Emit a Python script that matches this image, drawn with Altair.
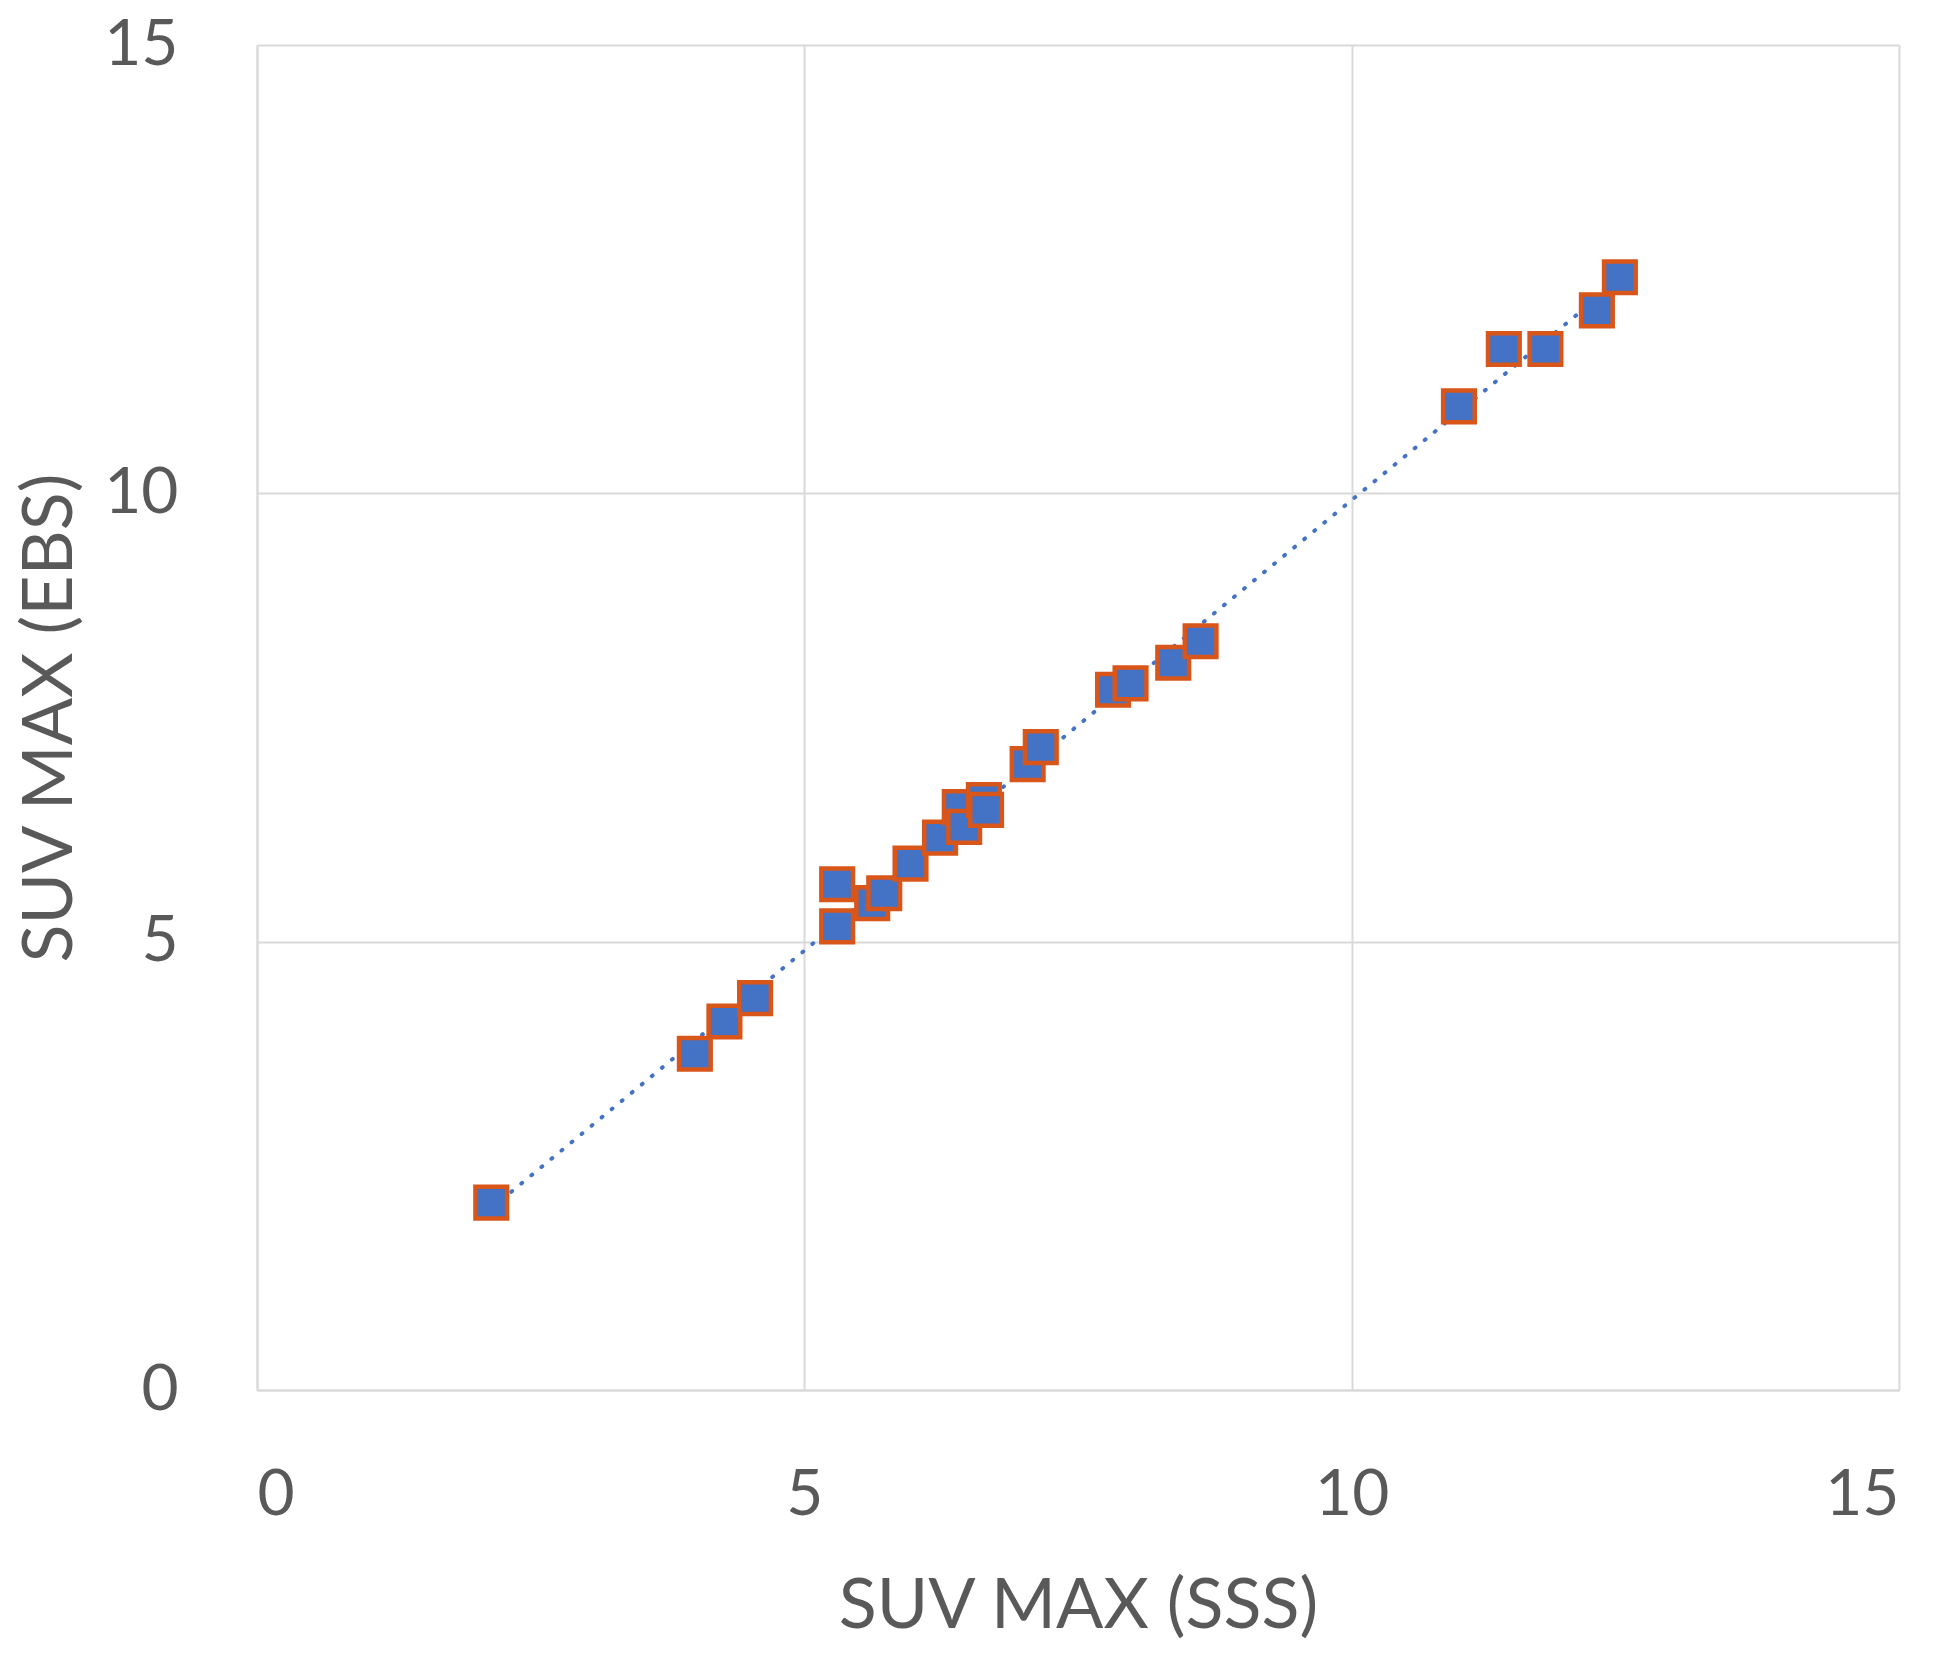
import altair as alt
import pandas as pd

sss = [2.14, 4.00, 4.27, 4.55, 5.30, 5.30, 5.62, 5.73, 5.97, 6.24, 6.42, 6.46, 6.64, 6.66,
       7.04, 7.16, 7.82, 7.98, 8.37, 8.62, 10.98, 11.39, 11.77, 12.24, 12.45]
ebs = [2.09, 3.75, 4.11, 4.37, 5.17, 5.64, 5.43, 5.54, 5.87, 6.16, 6.50, 6.28, 6.58, 6.47,
       6.98, 7.17, 7.81, 7.88, 8.11, 8.35, 10.97, 11.61, 11.61, 12.04, 12.41]
ticks = [0, 5, 10, 15]

df = pd.DataFrame({"SSS": sss, "EBS": ebs})

FONT = "Lato"
TXT = "#595959"
GRID = "#D9D9D9"

xenc = alt.X("SSS:Q", title="SUV MAX (SSS)",
             scale=alt.Scale(domain=[0, 15], nice=False, zero=False),
             axis=alt.Axis(values=ticks, ticks=False, tickSize=0, labelPadding=73,
                           titlePadding=45, labelFontSize=64, titleFontSize=70,
                           labelFont=FONT, titleFont=FONT, labelColor=TXT, titleColor=TXT,
                           titleFontWeight="normal", grid=True, gridColor=GRID, gridWidth=2,
                           domainColor=GRID, domainWidth=2))
yenc = alt.Y("EBS:Q", title="SUV MAX (EBS)",
             scale=alt.Scale(domain=[0, 15], nice=False, zero=False),
             axis=alt.Axis(values=ticks, ticks=False, tickSize=0, labelPadding=79,
                           titlePadding=17, labelFontSize=64, titleFontSize=70,
                           labelFont=FONT, titleFont=FONT, labelColor=TXT, titleColor=TXT,
                           titleFontWeight="normal", grid=True, gridColor=GRID, gridWidth=2,
                           domainColor=GRID, domainWidth=2))

trend = alt.Chart(df).transform_regression("SSS", "EBS").mark_line(
    color="#4472C4", strokeWidth=4, strokeDash=[1, 12], strokeCap="round"
).encode(x=xenc, y=yenc)

pts = alt.Chart(df).mark_point(
    shape="square", filled=True, fill="#4472C4", stroke="#D9561A",
    strokeWidth=4.5, size=1000, opacity=1, fillOpacity=1, strokeOpacity=1
).encode(x=xenc, y=yenc)

chart = alt.layer(trend, pts).properties(
    width=1642, height=1345,
    autosize=alt.AutoSizeParams(type="none"),
    padding={"left": 249, "top": 37, "right": 35, "bottom": 255},
).configure_view(stroke=GRID, strokeWidth=2).configure(background="white")

chart.save("out.html", embed_options={"renderer": "svg", "actions": False})
